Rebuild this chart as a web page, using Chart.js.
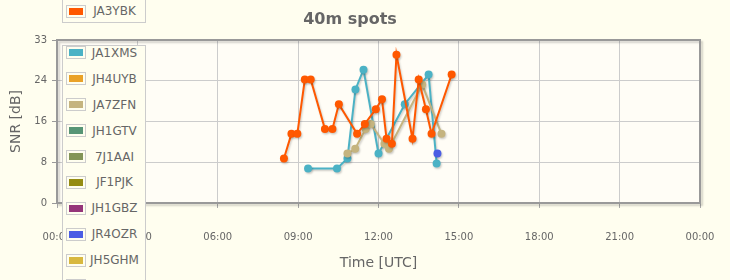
<!DOCTYPE html>
<html>
<head>
<meta charset="utf-8">
<script src="https://cdn.jsdelivr.net/npm/chart.js@4.4.1/dist/chart.umd.min.js"></script>
<style>
  body { margin: 0; background: #fffeef; }
  #wrap { position: relative; width: 730px; height: 280px; overflow: hidden; }
  #wrap canvas { position: absolute; left: 0; top: 0; }
  .legend { position: absolute; left: 62px; width: 82px; border: 1px solid #ccc; background: #fffeef;
            font: 12px "DejaVu Sans", sans-serif; color: #666; }
  .legend .row { height: 25.9px; display: flex; align-items: center; }
  .legend .sw { margin-left: 3px; border: 1px solid #ccc; padding: 2px; }
  .legend .sw div { width: 14px; height: 7px; }
  .legend .lbl { flex: 1; text-align: center; padding-right: 2px; }
</style>
</head>
<body>
<div id="wrap">
  <canvas id="spotsChart" width="730" height="280"></canvas>
  <div class="legend" id="prevLegend" style="top:-1px"></div>
  <div class="legend" id="spotsLegend" style="top:45px"></div>
</div>
<script>
// axis ticks
const xTickLabels = ["00:00", "03:00", "06:00", "09:00", "12:00", "15:00", "18:00", "21:00", "00:00"];
const yTickValues = [0, 8.25, 16.5, 24.75, 33];
const yTickLabels = ["0", "8", "16", "24", "33"];

// stations (legend order) and colours
const callsigns = ["JA1XMS", "JH4UYB", "JA7ZFN", "JH1GTV", "7J1AAI", "JF1PJK", "JH1GBZ", "JR4OZR", "JH5GHM", "JA3YBK"];
const colors = ["#4bb2c5", "#EAA228", "#c5b47f", "#579575", "#839557", "#958c12", "#953579", "#4b5de4", "#d8b83f", "#ff5800"];

// spots: time in hours UTC, SNR in dB
const ja1xmsTime = [9.37, 10.45, 10.84, 11.14, 11.44, 12.0, 12.98, 13.87, 14.17];
const ja1xmsSnr  = [7, 7, 9, 23, 27, 10, 20, 26, 8];
const ja7zfnTime = [10.84, 11.13, 11.52, 11.71, 12.22, 12.39, 13.63, 14.35];
const ja7zfnSnr  = [10, 11, 15, 16, 12, 11, 24, 14];
const jr4ozrTime = [14.2];
const jr4ozrSnr  = [10];
const ja3ybkTime = [8.47, 8.75, 8.97, 9.25, 9.47, 10.0, 10.28, 10.52, 11.2, 11.49, 11.9, 12.13, 12.3, 12.5, 12.67, 13.27, 13.5, 13.77, 13.98, 14.73];
const ja3ybkSnr  = [9, 14, 14, 25, 25, 15, 15, 20, 14, 16, 19, 21, 13, 12, 30, 13, 25, 19, 14, 26];

const spots = {
  JA1XMS: [ja1xmsTime, ja1xmsSnr],
  JA7ZFN: [ja7zfnTime, ja7zfnSnr],
  JR4OZR: [jr4ozrTime, jr4ozrSnr],
  JA3YBK: [ja3ybkTime, ja3ybkSnr]
};

function toPoints(name) {
  const s = spots[name];
  if (!s) return [];
  return s[0].map((t, i) => ({ x: t, y: s[1][i] }));
}

// html legend
function legendRow(name, color, h) {
  return '<div class="row"' + (h ? ' style="height:' + h + 'px"' : '') + '><div class="sw"><div style="background:' +
    color + '"></div></div><div class="lbl">' + name + '</div></div>';
}
document.getElementById("prevLegend").innerHTML = legendRow("JA3YBK", "#ff5800", 22);
document.getElementById("spotsLegend").innerHTML =
  '<div style="margin-top:-6px">' + callsigns.map((c, i) => legendRow(c, colors[i])).join("") + '</div>';

const plotFrame = {
  id: "plotFrame",
  beforeDraw(chart) {
    const a = chart.chartArea, c = chart.ctx;
    c.save();
    c.fillStyle = "#fffdf6";
    c.fillRect(a.left, a.top, a.right - a.left, a.bottom - a.top);
    c.restore();
  },
  beforeDatasetsDraw(chart) {
    const a = chart.chartArea, c = chart.ctx;
    c.save();
    c.strokeStyle = "#999999";
    c.lineWidth = 2;
    c.shadowColor = "rgba(0,0,0,0.18)";
    c.shadowOffsetX = 2;
    c.shadowOffsetY = 2;
    c.shadowBlur = 2;
    c.strokeRect(a.left, a.top, a.right - a.left, a.bottom - a.top);
    c.restore();
    c.save();
    c.shadowColor = "rgba(0,0,0,0.2)";
    c.shadowOffsetX = 1;
    c.shadowOffsetY = 1.5;
    c.shadowBlur = 2;
  },
  afterDatasetsDraw(chart) {
    chart.ctx.restore();
  }
};

const ctx = document.getElementById("spotsChart").getContext("2d");
new Chart(ctx, {
  type: "scatter",
  data: {
    datasets: callsigns.map((c, i) => ({
      label: c,
      data: toPoints(c),
      showLine: true,
      borderColor: colors[i],
      backgroundColor: colors[i],
      borderWidth: 2,
      pointRadius: 4,
      pointBorderWidth: 0,
      order: callsigns.length - i
    }))
  },
  options: {
    responsive: false,
    animation: false,
    devicePixelRatio: 1,
    layout: { padding: { left: 0, right: 30, top: 0, bottom: 0 } },
    plugins: {
      legend: { display: false },
      tooltip: { enabled: false },
      title: {
        display: true,
        text: "40m spots",
        color: "#666",
        font: { family: "DejaVu Sans", size: 16, weight: "bold" },
        padding: { top: 10, bottom: 10.8 }
      }
    },
    scales: {
      x: {
        type: "linear",
        min: 0,
        max: 24,
        afterFit: s => { s.height = 77; s.paddingLeft = 0; s.paddingRight = 0; },
        border: { display: false },
        grid: { color: "#cccccc", tickColor: "#aaaaaa", tickLength: 5 },
        ticks: {
          stepSize: 3,
          autoSkip: false,
          maxRotation: 0,
          padding: 23,
          color: "#666",
          font: { family: "DejaVu Sans", size: 10 },
          callback: (v, i) => xTickLabels[i]
        },
        title: {
          display: true,
          text: "Time [UTC]",
          color: "#666",
          font: { family: "DejaVu Sans", size: 14 },
          padding: { top: 0, bottom: 8 }
        }
      },
      y: {
        min: 0,
        max: 33,
        afterFit: s => { s.width = 57; s.paddingTop = 0; s.paddingBottom = 0; },
        afterBuildTicks: s => { s.ticks = yTickValues.map(v => ({ value: v })); },
        border: { display: false },
        grid: { color: "#cccccc", tickColor: "#999999", tickLength: 5 },
        ticks: {
          padding: 5,
          color: "#666",
          font: { family: "DejaVu Sans", size: 10 },
          callback: (v, i) => yTickLabels[i]
        },
        title: {
          display: true,
          text: "SNR [dB]",
          color: "#666",
          font: { family: "DejaVu Sans", size: 14 },
          padding: { top: 8, bottom: 0 }
        }
      }
    }
  },
  plugins: [plotFrame]
});
</script>
</body>
</html>
